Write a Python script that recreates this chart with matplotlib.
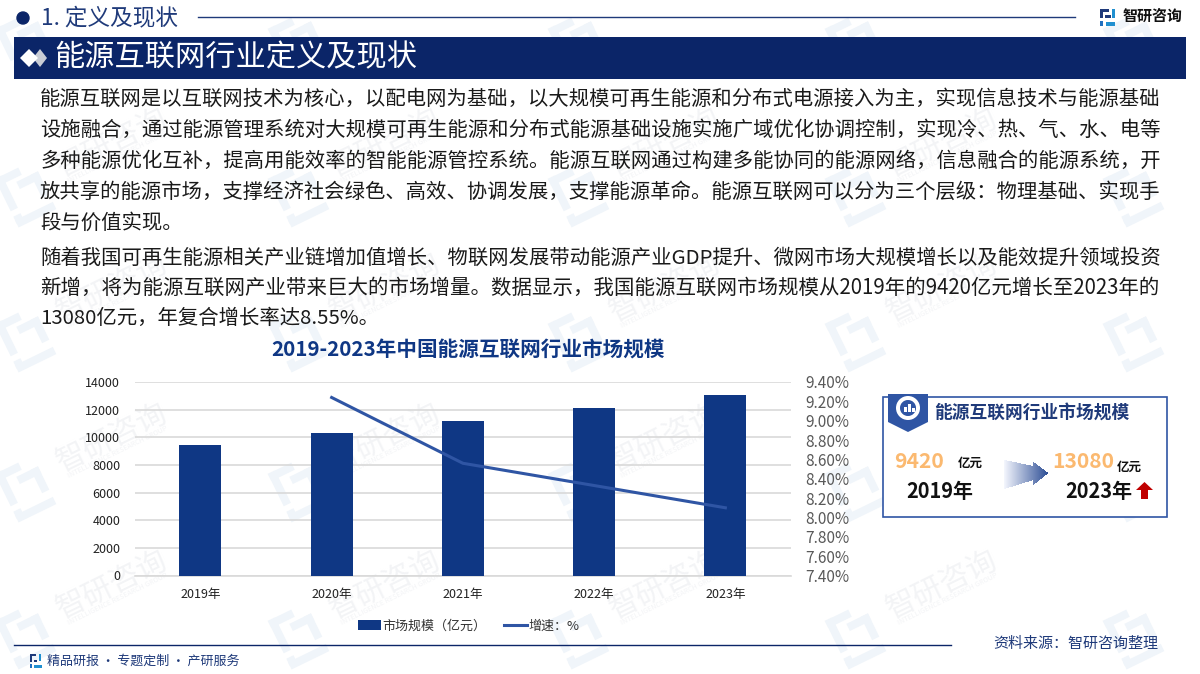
import matplotlib
matplotlib.use("Agg")
import matplotlib.pyplot as plt
from matplotlib.patches import Rectangle, Polygon, Circle, Wedge
from matplotlib.transforms import Affine2D
import numpy as np

plt.rcParams['font.family'] = ['Noto Sans CJK SC', 'DejaVu Sans']

years = ['2019年', '2020年', '2021年', '2022年', '2023年']
market = [9420, 10300, 11160, 12130, 13080]
growth_years = [1, 2, 3, 4]
growth = [9.24, 8.56, 8.33, 8.10]
left_ticks = [0, 2000, 4000, 6000, 8000, 10000, 12000, 14000]
right_ticks = [7.4, 7.6, 7.8, 8.0, 8.2, 8.4, 8.6, 8.8, 9.0, 9.2, 9.4]

para1 = ['能源互联网是以互联网技术为核心，以配电网为基础，以大规模可再生能源和分布式电源接入为主，实现信息技术与能源基础',
         '设施融合，通过能源管理系统对大规模可再生能源和分布式能源基础设施实施广域优化协调控制，实现冷、热、气、水、电等',
         '多种能源优化互补，提高用能效率的智能能源管控系统。能源互联网通过构建多能协同的能源网络，信息融合的能源系统，开',
         '放共享的能源市场，支撑经济社会绿色、高效、协调发展，支撑能源革命。能源互联网可以分为三个层级：物理基础、实现手',
         '段与价值实现。']
para2 = ['随着我国可再生能源相关产业链增加值增长、物联网发展带动能源产业GDP提升、微网市场大规模增长以及能效提升领域投资',
         '新增，将为能源互联网产业带来巨大的市场增量。数据显示，我国能源互联网市场规模从2019年的9420亿元增长至2023年的',
         '13080亿元，年复合增长率达8.55%。']
para1_y = [99, 130, 161, 192, 223]
para2_y = [258, 288, 318]

W, H = 1200, 674
NAVY = '#0B2568'
BAR = '#0F3784'
LINE = '#2F55A4'

fig = plt.figure(figsize=(W/100, H/100), dpi=100, facecolor='white')
bg = fig.add_axes([0, 0, 1, 1], zorder=0)
bg.set_xlim(0, W); bg.set_ylim(H, 0); bg.axis('off')
px = 0.72

# watermarks
WM_LOGO = '#F0F5FA'
WM_TEXT = '#F3F4F6'
wm_cols = [27, 300, 580, 857, 1135]
wm_rows = [40, 190, 335, 485, 632]
logo_parts = [(-24, -24, 26, 8), (-24, -24, 8, 36), (-6, -12, 24, 8), (10, -12, 8, 26), (-24, 22, 42, 8), (-24, 18, 8, 8)]
for wy in wm_rows:
    for wx in wm_cols:
        tr = Affine2D().rotate_deg_around(wx, wy, -26) + bg.transData
        for dx, dy, w, h in logo_parts:
            bg.add_patch(Rectangle((wx + dx, wy + dy), w, h, color=WM_LOGO, zorder=0, lw=0, transform=tr))
        if wx < 1100 and wy > 100:
            bg.text(wx + 85, wy - 47, '智研咨询', fontsize=30*px, color=WM_TEXT, rotation=26,
                    ha='center', va='center', zorder=0)
            bg.text(wx + 91, wy - 33, 'INTELLIGENCE RESEARCH GROUP', fontsize=7*px, color=WM_TEXT, rotation=26,
                    ha='center', va='center', zorder=0)

# header
bg.add_patch(Circle((23, 18), 6, color=NAVY, zorder=2))
bg.text(41, 18, '1. 定义及现状', fontsize=22.6*px, color='#1F3A7A', va='center', ha='left', zorder=2)
bg.plot([198, 1075], [17, 17], color='#1F3A7A', lw=1, zorder=2)
bg.text(1123, 16, '智研咨询', fontsize=15*px, color='#111111', va='center', ha='left', weight='bold', zorder=2)
for x, y, w, h, c in [(1100, 9, 9, 3, '#1F3A7A'), (1100, 9, 3, 9, '#1F3A7A'), (1100, 21, 3, 5, '#1F6FC0'),
                      (1105, 15, 6, 3, '#1F3A7A'), (1112, 9, 3, 9, '#1F8FD0'), (1106, 22, 9, 4, '#1F8FD0')]:
    bg.add_patch(Rectangle((x, y), w, h, color=c, lw=0, zorder=2))

# banner
bg.add_patch(Rectangle((14, 37), 1172, 42, color=NAVY, lw=0, zorder=2))
bg.add_patch(Polygon([[33, 58], [40, 49], [47, 58], [40, 67]], color='#C9CDD6', lw=0, zorder=3))
bg.add_patch(Polygon([[20, 58], [29, 49], [38, 58], [29, 67]], color='white', lw=0, zorder=3))
bg.text(54, 58, '能源互联网行业定义及现状', fontsize=30.2*px, color='white', va='center', ha='left', zorder=3)

# paragraphs
renderer = fig.canvas.get_renderer()
BODY = 20.4 * px
def body_line(s, y, full):
    t = bg.text(40, y, s, fontsize=BODY, color='#1A1A1A', va='center', ha='left', zorder=2)
    if full:
        width = t.get_window_extent(renderer).width
        t.set_fontsize(BODY * 1116 / width)
for group, ys in ((para1, para1_y), (para2, para2_y)):
    for i, (s, y) in enumerate(zip(group, ys)):
        body_line(s, y, i < len(group) - 1)

bg.text(468, 350, '2019-2023年中国能源互联网行业市场规模', fontsize=20.6*px, color='#0F3784',
        weight='bold', va='center', ha='center', zorder=2)

# chart
L, R, T, B = 134.8, 791, 382, 575.5
ax = fig.add_axes([L/W, 1-B/H, (R-L)/W, (B-T)/H], zorder=2)
ax.patch.set_alpha(0)
x = np.arange(len(years))
bars = ax.bar(x, market, width=0.32, color=BAR, label='市场规模（亿元）', zorder=3)
ax.set_xlim(-0.5, 4.5); ax.set_ylim(0, 14000)
ax.set_yticks(left_ticks)
ax.set_xticks(x, years)
ax.grid(axis='y', color='#D9D9D9', lw=1.2, zorder=0)
ax.set_axisbelow(True)
ax.tick_params(axis='both', length=0, labelsize=12.6*px, labelcolor='#222222')
ax.tick_params(axis='x', pad=9)
ax.tick_params(axis='y', pad=10.5)
for s in ['top', 'right', 'left']:
    ax.spines[s].set_visible(False)
ax.spines['bottom'].set_color('#D9D9D9')
ax.spines['bottom'].set_linewidth(1.2)
ax2 = ax.twinx()
ax2.patch.set_alpha(0)
ln, = ax2.plot(growth_years, growth, color=LINE, lw=2.2, label='增速：%')
ax2.set_ylim(7.4, 9.4)
ax2.set_yticks(right_ticks, [f'{v:.2f}%' for v in right_ticks])
ax2.tick_params(axis='y', length=0, labelsize=15.4*px, labelcolor='#595959', pad=10.5)
for s in ax2.spines.values():
    s.set_visible(False)

leg = fig.legend([bars, ln], ['市场规模（亿元）', '增速：%'], loc='center', ncol=2,
                 bbox_to_anchor=(468.5/W, 1-626/H), frameon=False, fontsize=13*px,
                 handlelength=1.8, columnspacing=1.34, handletextpad=0.1)
for t in leg.get_texts():
    t.set_color('#333333')

# footer
bg.plot([14, 951], [645, 645], color=NAVY, lw=1, zorder=2)
bg.text(47, 661, '精品研报\u2009·\u2009专题定制\u2009·\u2009产研服务', fontsize=13*px, color='#1F3A7A', va='center', ha='left', zorder=2)
for xx, y, w, h, c in [(30, 654, 6, 2, '#1F3A7A'), (30, 654, 2, 8, '#1F3A7A'), (30, 664, 2, 4, '#1F6FC0'),
                       (34, 660, 3, 2, '#1F3A7A'), (39, 654, 2, 7, '#1F8FD0'), (34, 665, 8, 3, '#1F8FD0')]:
    bg.add_patch(Rectangle((xx, y), w, h, color=c, lw=0, zorder=2))
bg.text(1158, 644, '资料来源：智研咨询整理', fontsize=15*px, color='#1F3A7A', va='center', ha='right', zorder=2)

# info card
ORANGE = '#FBB970'
bg.add_patch(Rectangle((883, 397), 284, 120, facecolor='white', edgecolor='#2F55A4', lw=1.2, zorder=2))
bg.add_patch(Polygon([[888, 394], [928, 394], [928, 422], [908, 432], [888, 422]], color='#2F55A4', lw=0, zorder=3))
bg.add_patch(Wedge((908, 408), 12, 0, 360, width=4, color='white', lw=0, zorder=4))
for bx, bh in [(904, 5), (908, 8), (912, 4)]:
    bg.add_patch(Rectangle((bx, 412 - bh), 2.5, bh, color='white', lw=0, zorder=4))
bg.text(934, 413, '能源互联网行业市场规模', fontsize=17.7*px, color='#1F3A7A', weight='bold', va='center', ha='left', zorder=3)
bg.text(894, 462, '9420', fontsize=21*px, color=ORANGE, weight='bold', va='center', ha='left', zorder=3)
bg.text(958, 463, '亿元', fontsize=12.5*px, color='#111111', weight='bold', va='center', ha='left', zorder=3)
bg.text(906, 491, '2019年', fontsize=20*px, color='#111111', weight='bold', va='center', ha='left', zorder=3)
bg.text(1052, 462, '13080', fontsize=21*px, color=ORANGE, weight='bold', va='center', ha='left', zorder=3)
bg.text(1117, 467, '亿元', fontsize=12.5*px, color='#111111', weight='bold', va='center', ha='left', zorder=3)
bg.text(1065, 491, '2023年', fontsize=20*px, color='#111111', weight='bold', va='center', ha='left', zorder=3)
# gradient arrow
n = 44
xs = np.linspace(1004, 1048, n + 1)
for i in range(n):
    t = i / n
    col = (1 - t) * np.array([0.95, 0.96, 0.99]) + t * np.array([0.17, 0.30, 0.58])
    xc = xs[i]
    if xc < 1033:
        f = (xc - 1004) / 29
        top, bot = 460 + 6 * f, 489 - 9 * f
    else:
        f = (xc - 1033) / 15
        top, bot = 462 + 11 * f, 485 - 12 * f
    bg.add_patch(Rectangle((xc, top), xs[i+1] - xc + 0.4, bot - top, color=col, lw=0, zorder=3))
bg.add_patch(Polygon([[1136, 490], [1144.5, 482], [1153, 490], [1148, 490], [1148, 499], [1141, 499], [1141, 490]],
                     color='#C00000', lw=0, zorder=4))

fig.savefig('out.png', dpi=100)
